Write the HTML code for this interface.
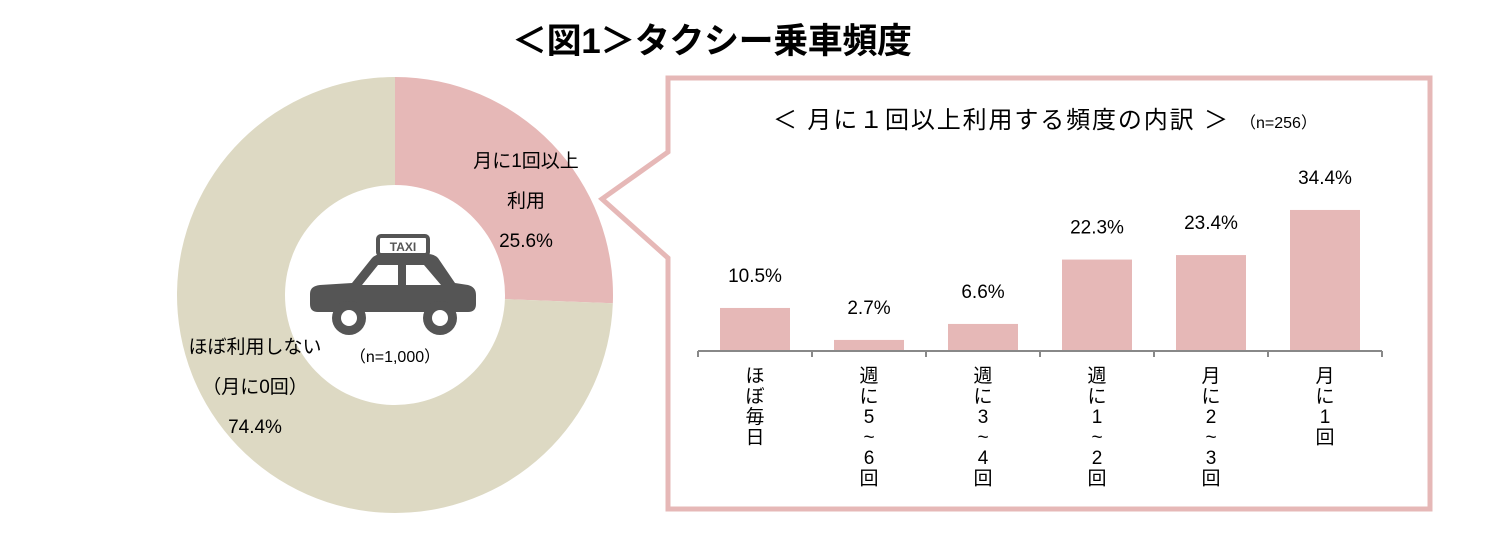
<!DOCTYPE html>
<html><head><meta charset="utf-8"><style>
html,body{margin:0;padding:0;background:#fff;width:1500px;height:542px;overflow:hidden}
svg{display:block;font-family:"Liberation Sans","Noto Sans CJK JP",sans-serif}
</style></head><body>
<svg id="chart" width="1500" height="542" viewBox="0 0 1500 542">
<text x="712" y="53" text-anchor="middle" font-size="35" font-weight="bold" fill="#000" textLength="400">＜図1＞タクシー乗車頻度</text>
<g id="donut"></g>
<g fill="#555">
<rect x="378" y="236" width="50" height="19" rx="3" fill="none" stroke="#555" stroke-width="4"/>
<text x="403" y="251" text-anchor="middle" font-size="12" font-weight="bold" fill="#555">TAXI</text>
<path d="M318 312 Q310 312 310 304 L310 294 Q310 286 320 285 L352 283 L372 258 Q376 254 382 254 L428 254 Q434 254 438 258 L455 283 L468 285 Q476 287 476 295 L476 304 Q476 312 468 312 Z"/>
<path d="M362 285 L378 265 L398 265 L398 285 Z" fill="#fff"/>
<path d="M406 265 L424 265 L441 285 L406 285 Z" fill="#fff"/>
<circle cx="349" cy="318" r="17" fill="#555"/><circle cx="349" cy="318" r="8" fill="#fff"/>
<circle cx="440" cy="318" r="17" fill="#555"/><circle cx="440" cy="318" r="8" fill="#fff"/>
</g>
<text x="395" y="362" text-anchor="middle" font-size="16" fill="#000">（n=1,000）</text>
<g font-size="19" fill="#000" text-anchor="middle">
<text x="526" y="167">月に1回以上</text>
<text x="526" y="207">利用</text>
<text x="526" y="247">25.6%</text>
<text x="255" y="353">ほぼ利用しない</text>
<text x="255" y="393">（月に0回）</text>
<text x="255" y="433">74.4%</text>
</g>
<path d="M668 78 L1430 78 L1430 509 L668 509 L668 258 L602 199 L668 152 Z" fill="#fff" stroke="#e6b8b7" stroke-width="5"/>
<text x="773" y="128" font-size="24" fill="#000" textLength="455">＜ 月に１回以上利用する頻度の内訳 ＞</text>
<text x="1240" y="128" font-size="16" fill="#000">（n=256）</text>
<g id="bars"></g>
</svg>
<script>
const donutLabels=["月に1回以上利用","ほぼ利用しない"];
const donutValues=[25.6,74.4];
const categories=["ほぼ毎日","週に5~6回","週に3~4回","週に1~2回","月に2~3回","月に1回"];
const values=[10.5,2.7,6.6,22.3,23.4,34.4];
const valueLabels=["10.5%","2.7%","6.6%","22.3%","23.4%","34.4%"];
const NS="http://www.w3.org/2000/svg";
function mk(t,a,p){const e=document.createElementNS(NS,t);for(const k in a)e.setAttribute(k,a[k]);p.appendChild(e);return e;}
const cx=395,cy=295,R=218,r=110,colors=["#e6b8b7","#ddd9c3"];
const dg=document.getElementById('donut');
let total=donutValues.reduce((a,b)=>a+b,0),acc=0;
donutValues.forEach((v,i)=>{
 const a0=acc/total*2*Math.PI;acc+=v;const a1=acc/total*2*Math.PI;
 const pt=(rad,a)=>[cx+rad*Math.sin(a),cy-rad*Math.cos(a)];
 const lg=(a1-a0)>Math.PI?1:0;
 const [x0,y0]=pt(R,a0),[x1,y1]=pt(R,a1),[x2,y2]=pt(r,a1),[x3,y3]=pt(r,a0);
 const p=mk('path',{d:`M${x0} ${y0} A${R} ${R} 0 ${lg} 1 ${x1} ${y1} L${x2} ${y2} A${r} ${r} 0 ${lg} 0 ${x3} ${y3} Z`,fill:colors[i]},dg);
 
 
});
const bg=document.getElementById('bars');
const x0=698,x1=1382,yBase=351,pxPer=4.1,band=(x1-x0)/categories.length,bw=70;
const xs=i=>x0+band*i+band/2, ys=v=>yBase-v*pxPer;
values.forEach((v,i)=>{
 const b=mk('rect',{x:xs(i)-bw/2,y:ys(v),width:bw,height:yBase-ys(v),fill:"#e6b8b7"},bg);
 
 
 const t=mk('text',{x:xs(i),y:ys(v)-26,'text-anchor':'middle','font-size':19,fill:'#000'},bg);
 t.textContent=valueLabels[i];
 
 
 const chars=[...categories[i]];
 const lab=mk('text',{'text-anchor':'middle','font-size':19,fill:'#000'},bg);
 
 
 chars.forEach((c,j)=>{const s=mk('tspan',{x:xs(i),y:382+j*20.5},lab);s.textContent=c;});
});
const ax=mk('line',{x1:x0,y1:yBase,x2:x1,y2:yBase,stroke:'#888','stroke-width':2},bg);


for(let i=0;i<=categories.length;i++){
 const tk=mk('line',{x1:x0+band*i,y1:yBase,x2:x0+band*i,y2:yBase+6,stroke:'#888','stroke-width':2},bg);
 
 
}
</script>
</body></html>
